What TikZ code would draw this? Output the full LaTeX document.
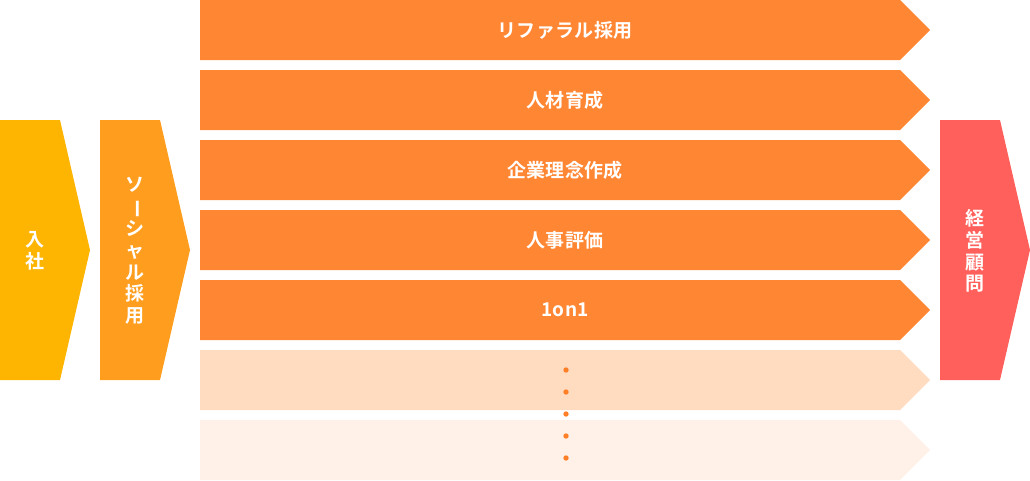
\documentclass[tikz,border=0pt]{standalone}
\usepackage{fontspec}
\setmainfont{Noto Sans CJK JP}[BoldFont=* Bold, LetterSpace=2]
\usepackage{graphicx}
\definecolor{joinyellow}{HTML}{FDB502}
\definecolor{socialorange}{HTML}{FF9E1E}
\definecolor{taskorange}{HTML}{FF8633}
\definecolor{taskfaint}{HTML}{FFDBC0}
\definecolor{taskfainter}{HTML}{FFF1E8}
\definecolor{advisorred}{HTML}{FF605B}
\definecolor{dotorange}{HTML}{FF7F27}
\tikzset{
    task/.style={fill=taskorange},
    tasktext/.style={text=white, inner sep=0, font=\bfseries\fontsize{19}{22}\selectfont},
    stagetext/.style={text=white, inner sep=0, align=center, font=\bfseries\fontsize{19}{21.8}\selectfont}
}
\newcommand{\chouon}{\rotatebox[origin=c]{-90}{ー}}

\begin{document}
\begin{tikzpicture}[x=1pt, y=-1pt]
    \useasboundingbox (0,0) rectangle (1030,480);
    % stages on the left and right
    \fill[joinyellow] (0,120) -- (60,120) -- (90,250) -- (60,380) -- (0,380) -- cycle;
    \node[stagetext] (join) at (35,251) {入\\社};
    \fill[socialorange] (100,120) -- (160,120) -- (190,250) -- (160,380) -- (100,380) -- cycle;
    \node[stagetext] (social) at (135,251) {ソ\\\chouon\\シ\\ャ\\ル\\採\\用};
    \fill[advisorred] (940,120) -- (1000,120) -- (1030,250) -- (1000,380) -- (940,380) -- cycle;
    \node[stagetext] (advisor) at (975,251) {経\\営\\顧\\問};
    % task rows
    \fill[task] (200,0) -- (900,0) -- (930,30) -- (900,60) -- (200,60) -- cycle;
    \node[tasktext] (referral) at (565,30) {リファラル採用};
    \fill[task] (200,70) -- (900,70) -- (930,100) -- (900,130) -- (200,130) -- cycle;
    \node[tasktext] (training) at (565,100) {人材育成};
    \fill[task] (200,140) -- (900,140) -- (930,170) -- (900,200) -- (200,200) -- cycle;
    \node[tasktext] (philosophy) at (565,170) {企業理念作成};
    \fill[task] (200,210) -- (900,210) -- (930,240) -- (900,270) -- (200,270) -- cycle;
    \node[tasktext] (evaluation) at (565,240) {人事評価};
    \fill[task] (200,280) -- (900,280) -- (930,310) -- (900,340) -- (200,340) -- cycle;
    \node[tasktext] (oneonone) at (565,310) {1on1};
    \fill[taskfaint] (200,350) -- (900,350) -- (930,380) -- (900,410) -- (200,410) -- cycle;
    \fill[taskfainter] (200,420) -- (900,420) -- (930,450) -- (900,480) -- (200,480) -- cycle;
    % more to come
    \fill[dotorange] (566,370) circle (2.7) (566,392) circle (2.7) (566,414) circle (2.7)
        (566,436) circle (2.7) (566,458) circle (2.7);
\end{tikzpicture}
\end{document}
